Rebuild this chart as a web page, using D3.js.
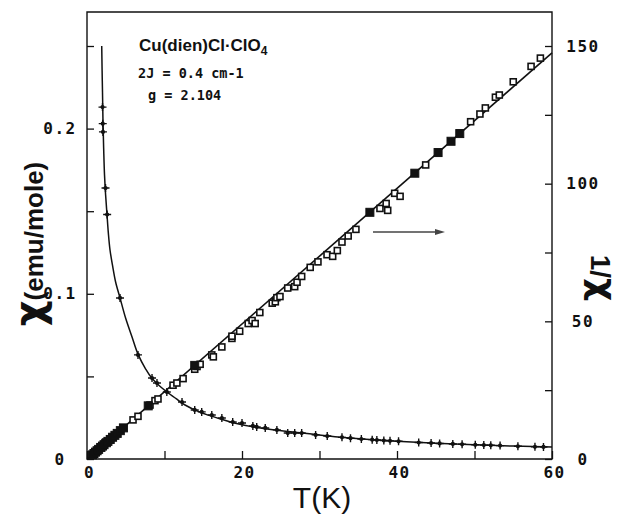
<!DOCTYPE html>
<html>
<head>
<meta charset="utf-8">
<script src="https://cdn.jsdelivr.net/npm/d3@7"></script>
<style>
  html, body { margin: 0; padding: 0; background: #fff; }
  svg { display: block; }
</style>
</head>
<body>
<svg id="chart" width="625" height="515"></svg>
<script>
// ---------------- data ----------------
// chi (emu/mole) vs T (K): measured points
const chiT   = [2.0, 2.03, 2.06, 2.39, 2.6, 4.26, 6.58, 8.39, 9.03, 10.3, 12.26, 13.9, 14.8, 16.1, 17.4, 18.8, 20.0, 21.4, 21.9, 23.0, 24.5, 25.9, 26.8, 27.7, 29.5, 31.0, 32.9, 34.0, 35.4, 36.8, 37.4, 38.3, 39.1, 40.2, 42.8, 44.4, 45.5, 47.2, 48.4, 50.1, 51.2, 52.1, 53.3, 55.6, 57.8, 58.9];
const chiVal = [0.213, 0.203, 0.198, 0.164, 0.148, 0.0975, 0.063, 0.049, 0.046, 0.0406, 0.0345, 0.0297, 0.0285, 0.0266, 0.0248, 0.0224, 0.0218, 0.0200, 0.0194, 0.0188, 0.0176, 0.0157, 0.0157, 0.0157, 0.0146, 0.0139, 0.0131, 0.0126, 0.0121, 0.0117, 0.0115, 0.0112, 0.0110, 0.0107, 0.0100, 0.0097, 0.0094, 0.0091, 0.0089, 0.0086, 0.0084, 0.0083, 0.0081, 0.0077, 0.0074, 0.0073];

// chi fit curve (sampled from the drawn curve)
const fitT   = [1.90, 1.95, 2.0, 2.06, 2.15, 2.26, 2.4, 2.58, 2.75, 2.97, 3.3, 3.7, 4.26, 5.0, 5.8, 6.62, 7.5, 8.35, 9.3, 10.28, 11.5, 12.65, 14.5, 16.95, 19.0, 21.25, 24.5, 28.1, 32.0, 36.0, 40.0, 45.0, 50.0, 55.0, 60.0];
const fitChi = [0.250, 0.235, 0.222, 0.205, 0.188, 0.172, 0.160, 0.148, 0.137, 0.1265, 0.117, 0.107, 0.0975, 0.085, 0.074, 0.063, 0.055, 0.049, 0.0445, 0.0407, 0.0365, 0.0327, 0.0285, 0.0246, 0.0218, 0.0196, 0.0174, 0.0156, 0.0135, 0.0120, 0.0108, 0.0096, 0.0086, 0.0078, 0.0072];

// 1/chi vs T: open squares
const invT   = [1.68, 2.32, 2.97, 3.35, 5.94, 6.58, 8.13, 8.77, 9.16, 11.1, 11.6, 12.4, 13.9, 14.2, 14.6, 16.1, 16.3, 17.4, 18.7, 18.7, 19.7, 20.8, 21.3, 21.7, 22.3, 23.9, 24.3, 24.5, 24.9, 25.9, 26.8, 27.1, 27.7, 28.8, 29.8, 30.97, 31.7, 32.3, 32.9, 33.7, 34.7, 37.8, 38.6, 38.8, 39.7, 40.4, 43.7, 49.5, 50.7, 51.4, 52.7, 53.2, 55.0, 57.3, 58.5];
const invVal = [4.4, 5.9, 7.1, 7.9, 14.2, 15.5, 19.6, 21.2, 21.8, 26.8, 27.6, 29.2, 32.6, 33.6, 34.4, 37.8, 37.1, 40.7, 43.8, 44.6, 46.4, 49.2, 50.3, 49.2, 53.2, 56.6, 57.1, 58.6, 59.0, 62.1, 62.6, 64.2, 66.3, 69.6, 71.6, 74.2, 73.6, 75.7, 78.8, 81.0, 83.4, 91.0, 92.8, 90.3, 96.5, 95.4, 106.8, 122.5, 125.3, 127.5, 131.4, 132.2, 137.0, 142.6, 145.6];
// 1/chi vs T: overlapping (filled-looking) squares
const invFillT   = [0.7, 0.9, 1.1, 1.3, 1.5, 1.8, 2.0, 2.2, 2.5, 2.7, 3.0, 3.3, 3.6, 3.9, 4.3, 4.7, 7.9, 13.9, 36.5, 42.3, 45.3, 46.97, 48.1];
const invFillVal = [1.5, 2.0, 2.5, 3.0, 3.5, 4.2, 4.7, 5.2, 5.9, 6.4, 7.1, 7.9, 8.6, 9.3, 10.3, 11.3, 19.3, 34.0, 89.6, 103.8, 111.3, 115.4, 118.2];

// 1/chi fit line (end points)
const lineT   = [0.15, 60];
const lineInv = [0.2, 147.5];

// axis ticks
const xTicks = [0, 10, 20, 30, 40, 50, 60];
const xLabels = [0, 20, 40, 60];
const yLTicks = [0, 0.05, 0.1, 0.15, 0.2, 0.25];
const yLLabels = ["0", "0.1", "0.2"];
const yRTicks = [0, 25, 50, 75, 100, 125, 150];
const yRLabels = [0, 50, 100, 150];

// ---------------- drawing ----------------
const svg = d3.select("#chart");
const L = 87, R = 552, B = 459, T0 = 46, FRAME_TOP = 12;

const x  = d3.scaleLinear([0, 60], [L, R]);
const yL = d3.scaleLinear([0, 0.25], [B, T0]);
const yR = d3.scaleLinear([0, 150], [B, T0]);

const tickFont = "'DejaVu Sans Mono', monospace";

// frame
svg.append("path")
  .attr("d", `M${L},${B}V${FRAME_TOP}H${R}V${B}Z`)
  .attr("fill", "none").attr("stroke", "#111").attr("stroke-width", 1.4);

// bottom axis
const gx = svg.append("g").attr("transform", `translate(0,${B})`)
  .call(d3.axisBottom(x).tickValues(xTicks).tickSizeInner(-8).tickSizeOuter(0).tickPadding(8)
    .tickFormat(d => xLabels.includes(d) ? String(d) : ""));
// left axis
const gl = svg.append("g").attr("transform", `translate(${L},0)`)
  .call(d3.axisLeft(yL).tickValues(yLTicks).tickSizeInner(-7).tickSizeOuter(0).tickPadding(0)
    .tickFormat(d => { const s = d3.format("~g")(d); return yLLabels.includes(s) ? s : ""; }));
// right axis
const gr = svg.append("g").attr("transform", `translate(${R},0)`)
  .call(d3.axisRight(yR).tickValues(yRTicks).tickSizeInner(-7).tickSizeOuter(0).tickPadding(0)
    .tickFormat(d => yRLabels.includes(d) ? String(d) : ""));

[gx, gl, gr].forEach(g => {
  g.select(".domain").remove();
  g.selectAll(".tick line").attr("stroke", "#111").attr("stroke-width", 1.3);
  g.selectAll(".tick text")
    .attr("fill", "#111")
    .style("font-family", tickFont)
    .style("font-weight", "bold")
    .style("font-size", "16px")
    .style("letter-spacing", "1.5px");
});
gl.selectAll(".tick text").attr("text-anchor", "middle").attr("x", -27);
gr.selectAll(".tick text").attr("text-anchor", "middle").attr("x", 31);
gx.selectAll(".tick text").attr("dx", 2);

// fit curve for chi
const curvePts = fitT.map((t, i) => [t, fitChi[i]]);
svg.append("path")
  .attr("d", d3.line().x(d => x(d[0])).y(d => yL(d[1])).curve(d3.curveMonotoneY)(curvePts))
  .attr("fill", "none").attr("stroke", "#111").attr("stroke-width", 1.5);

// fit line for 1/chi
const linePts = lineT.map((t, i) => [t, lineInv[i]]);
svg.append("path")
  .attr("d", d3.line().x(d => x(d[0])).y(d => yR(d[1]))(linePts))
  .attr("fill", "none").attr("stroke", "#111").attr("stroke-width", 1.6);

// open squares
const sq = 6;
svg.append("g").selectAll("rect").data(invT.map((t, i) => [t, invVal[i]])).join("rect")
  .attr("x", d => x(d[0]) - sq / 2).attr("y", d => yR(d[1]) - sq / 2)
  .attr("width", sq).attr("height", sq)
  .attr("fill", "#fff").attr("stroke", "#111").attr("stroke-width", 1.6);
// filled squares
svg.append("g").selectAll("rect").data(invFillT.map((t, i) => [t, invFillVal[i]])).join("rect")
  .attr("x", d => x(d[0]) - 4).attr("y", d => yR(d[1]) - 4)
  .attr("width", 8).attr("height", 8)
  .attr("fill", "#111").attr("stroke", "#111").attr("stroke-width", 1);

// chi markers: plus with a dot
const chiPts = chiT.map((t, i) => [t, chiVal[i]]);
const gm = svg.append("g").selectAll("g").data(chiPts).join("g")
  .attr("transform", d => `translate(${x(d[0])},${yL(d[1])})`);
gm.append("path").attr("d", "M-4,0H4M0,-4V4").attr("stroke", "#111").attr("stroke-width", 1.4);
gm.append("circle").attr("r", 2.1).attr("fill", "#111");

// arrow pointing to right axis
svg.append("line").attr("x1", 373).attr("y1", 232).attr("x2", 440).attr("y2", 232)
  .attr("stroke", "#444").attr("stroke-width", 1.3);
svg.append("path").attr("d", "M445,232 L435,229 L435,235 Z").attr("fill", "#444");

// annotations
const ann = svg.append("text").attr("x", 139).attr("y", 51)
  .style("font-family", "'Liberation Sans', Arial, sans-serif").style("font-weight", "bold").style("font-size", "17px").attr("fill", "#111");
ann.append("tspan").text("Cu(dien)Cl\u00B7ClO");
ann.append("tspan").attr("dy", 4).style("font-size", "12px").text("4");

svg.append("text").attr("x", 138).attr("y", 78)
  .style("font-family", tickFont).style("font-weight", "bold").style("font-size", "13.5px").attr("fill", "#111")
  .text("2J = 0.4 cm-1");
svg.append("text").attr("x", 148).attr("y", 100)
  .style("font-family", tickFont).style("font-weight", "bold").style("font-size", "13.5px").attr("fill", "#111")
  .text("g = 2.104");

// axis titles
svg.append("text").attr("x", 322).attr("y", 508).attr("text-anchor", "middle")
  .style("font-family", "'Liberation Sans', Arial, sans-serif").style("font-size", "30px").attr("fill", "#111")
  .text("T(K)");

const lt = svg.append("text").attr("transform", "translate(43,244) rotate(-90)").attr("text-anchor", "middle")
  .style("font-family", "'Liberation Sans', Arial, sans-serif").style("font-weight", "bold").attr("fill", "#111");
lt.append("tspan").style("font-family", "'DejaVu Sans', sans-serif").style("font-size", "40px").text("\u03C7");
lt.append("tspan").style("font-size", "26px").text("(emu/mole)");

const rt = svg.append("text").attr("transform", "translate(591,278) rotate(90)").attr("text-anchor", "middle")
  .style("font-family", "'Liberation Sans', Arial, sans-serif").style("font-weight", "bold").attr("fill", "#111");
rt.append("tspan").style("font-size", "28px").text("1/");
rt.append("tspan").style("font-family", "'DejaVu Sans', sans-serif").style("font-size", "36px").text("\u03C7");
</script>
</body>
</html>
